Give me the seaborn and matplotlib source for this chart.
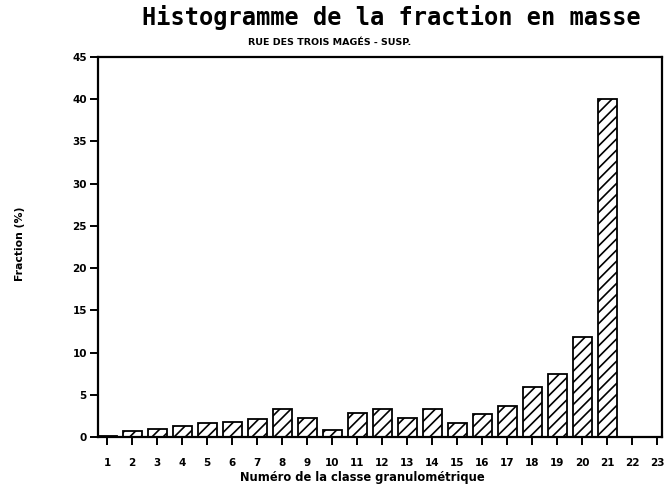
import matplotlib
matplotlib.use("Agg")
import matplotlib.pyplot as plt
import seaborn as sns
import pandas as pd

# Mass fraction per granulometric class
classes = [str(i) for i in range(1, 24)]
fractions = [0.1, 0.7, 1.0, 1.3, 1.7, 1.8, 2.1, 3.3, 2.2, 0.8, 2.8, 3.3,
             2.2, 3.3, 1.7, 2.7, 3.7, 5.9, 7.5, 11.9, 40.0, 0.0, 0.0]
y_ticks = [0, 5, 10, 15, 20, 25, 30, 35, 40, 45]

title = "Histogramme de la fraction en masse"
subtitle = "RUE DES TROIS MAGÉS - SUSP."
x_label = "Numéro de la classe granulométrique"
y_label = "Fraction (%)"

df = pd.DataFrame({"classe": classes, "fraction": fractions})

sns.set_theme(style="ticks")
plt.rcParams["font.family"] = ["DejaVu Sans"]
plt.rcParams["text.color"] = "black"
plt.rcParams["hatch.linewidth"] = 1.2
plt.rcParams["hatch.color"] = "black"

fig = plt.figure(figsize=(6.64, 4.88), dpi=100)
ax = fig.add_axes([0.1476, 0.1045, 0.997 - 0.1476, 0.8832 - 0.1045])

sns.barplot(data=df, x="classe", y="fraction", order=classes, color="white",
            edgecolor="black", linewidth=1.3, width=0.76, saturation=1,
            ax=ax)
for bar in ax.patches:
    bar.set_hatch("///")
    bar.set_facecolor("white")
    bar.set_edgecolor("black")

ax.set_xlim(-0.36, 22.2)
ax.set_ylim(0, 45)
ax.set_yticks(y_ticks)
ax.set_yticklabels([str(v) for v in y_ticks])

for side in ["top", "right", "left", "bottom"]:
    ax.spines[side].set_visible(True)
    ax.spines[side].set_linewidth(1.6)
    ax.spines[side].set_color("black")

ax.tick_params(axis="both", direction="out", length=6, width=1.4,
               colors="black", labelcolor="black", labelsize=7.5)
for lab in ax.get_xticklabels() + ax.get_yticklabels():
    lab.set_fontweight("heavy")
ax.tick_params(axis="x", pad=9)
ax.tick_params(axis="y", pad=2)

ax.set_xlabel("")
ax.set_ylabel("")

fig.text(0.59, 0.965, title, ha="center", va="center", fontsize=17,
         fontweight="bold", family="DejaVu Sans Mono", color="black")
fig.text(0.497, 0.913, subtitle, ha="center", va="center", fontsize=6.8,
         fontweight="heavy", color="black")
fig.text(0.545, 0.022, x_label, ha="center", va="center", fontsize=8.3,
         fontweight="heavy", color="black")
fig.text(0.03, 0.5, y_label, ha="center", va="center", fontsize=7.8,
         fontweight="heavy", rotation=90, color="black")

fig.savefig("out.png", dpi=100, facecolor="white")
